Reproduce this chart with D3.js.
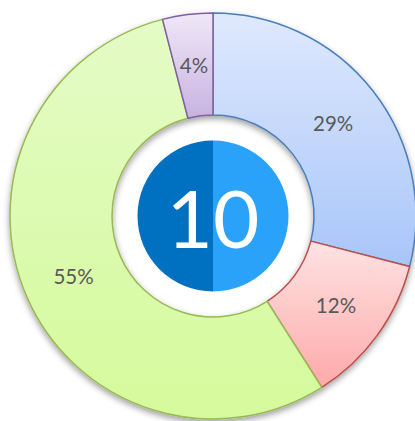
<!DOCTYPE html>
<html>
<head>
<meta charset="utf-8">
<script src="https://cdn.jsdelivr.net/npm/d3@7/dist/d3.min.js"></script>
<style>
  html, body { margin: 0; padding: 0; background: #ffffff; }
  svg { display: block; }
</style>
</head>
<body>
<svg id="chart" width="415" height="421"></svg>
<script>
// Share of each segment, in drawing order clockwise from twelve o'clock
const categories = ["Segment A", "Segment B", "Segment C", "Segment D"];
const values = [29, 12, 55, 4];
const centerValue = 10;

// Per-segment fill gradient (top, bottom) and outline
const gradTop = ["#dfe9fd", "#fde3e3", "#e4fbc6", "#efe8f7"];
const gradBottom = ["#a8c5f9", "#ffa9a9", "#d5fa9b", "#c8b2e0"];
const strokes = ["#4a7ebb", "#be4b48", "#98b954", "#7d60a0"];

const W = 415, H = 421;
const cx = 213, cy = 216;
const outerR = 203, innerR = 101, hubR = 75.5;

const svg = d3.select("#chart");
const defs = svg.append("defs");

const shadow = defs.append("filter")
  .attr("id", "ringShadow")
  .attr("x", "-20%").attr("y", "-20%")
  .attr("width", "140%").attr("height", "140%");
shadow.append("feDropShadow")
  .attr("dx", 0).attr("dy", 3)
  .attr("stdDeviation", 3)
  .attr("flood-color", "#000")
  .attr("flood-opacity", 0.38);

categories.forEach((c, i) => {
  const g = defs.append("linearGradient")
    .attr("id", "grad" + i)
    .attr("x1", 0).attr("y1", 0).attr("x2", 0).attr("y2", 1);
  g.append("stop").attr("offset", "0%").attr("stop-color", gradTop[i]);
  g.append("stop").attr("offset", "100%").attr("stop-color", gradBottom[i]);
});

const pie = d3.pie().sort(null).value(d => d.value);
const arc = d3.arc().innerRadius(innerR).outerRadius(outerR);
const labelArc = d3.arc().innerRadius(innerR).outerRadius(outerR);

const data = categories.map((c, i) => ({ name: c, value: values[i], i }));
const arcs = pie(data);

const ring = svg.append("g")
  .attr("transform", `translate(${cx},${cy})`);

ring.append("g")
  .attr("filter", "url(#ringShadow)")
  .selectAll("path")
  .data(arcs)
  .join("path")
  .attr("d", arc)
  .attr("fill", d => `url(#grad${d.data.i})`)
  .attr("stroke", d => strokes[d.data.i])
  .attr("stroke-width", 1.5)
  .attr("stroke-linejoin", "round");

const total = d3.sum(values);
ring.append("g")
  .selectAll("text")
  .data(arcs)
  .join("text")
  .attr("transform", d => `translate(${labelArc.centroid(d)})`)
  .attr("text-anchor", "middle")
  .attr("dominant-baseline", "central")
  .attr("font-family", "Lato, 'Open Sans', sans-serif")
  .attr("font-size", 20.5)
  .attr("fill", "#595959")
  .text(d => Math.round(d.data.value / total * 100) + "%");

// Central hub: two-tone disc with the headline number
const hub = svg.append("g").attr("transform", `translate(${cx},${cy})`);
const half = d3.arc().innerRadius(0).outerRadius(hubR);
hub.append("path")
  .attr("d", half({ startAngle: Math.PI, endAngle: 2 * Math.PI }))
  .attr("fill", "#0070c0");
hub.append("path")
  .attr("d", half({ startAngle: 0, endAngle: Math.PI }))
  .attr("fill", "#2aa2f9");
hub.append("text")
  .attr("text-anchor", "middle")
  .attr("dominant-baseline", "central")
  .attr("y", 1)
  .attr("font-family", "Lato, 'Open Sans', sans-serif")
  .attr("font-size", 80)
  .attr("fill", "#ffffff")
  .text(centerValue);
</script>
</body>
</html>
